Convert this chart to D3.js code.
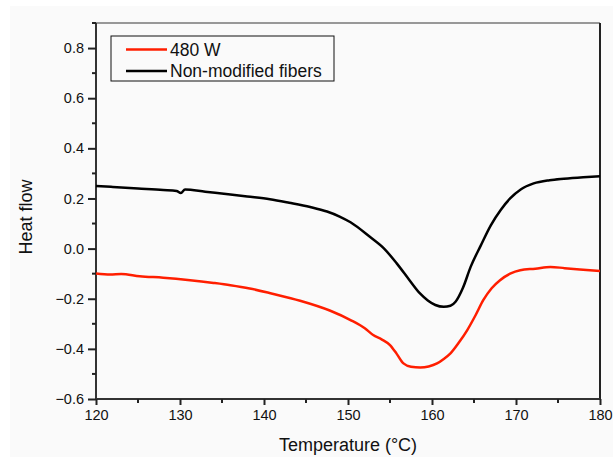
<!DOCTYPE html>
<meta charset="utf-8">
<title>Heat flow</title>
<style>
  body { margin: 0; background: #fff; }
  text { font-family: "Liberation Sans", Arial, sans-serif; fill: #111; }
</style>
<body>
</body>
<script src="https://d3js.org/d3.v7.min.js"></script>
<script>
  const width = 613, height = 457;

  // temperature (°C) and heat flow readings
  const tempBlack = [120, 122, 125, 128, 129.6, 130.1, 130.6, 133, 136, 138, 140.7, 143, 145.5, 147.5, 149, 150.3, 152.6, 154.3, 155.8, 157.3, 158.6, 159.5, 160.4, 161.4, 162.2, 162.8, 163.7, 164.6, 165.8, 167, 168.2, 169.3, 170.6, 172.1, 174, 175.7, 178, 180];
  const flowBlack = [0.250, 0.246, 0.240, 0.234, 0.230, 0.222, 0.236, 0.227, 0.216, 0.208, 0.197, 0.183, 0.166, 0.148, 0.128, 0.105, 0.047, 0.000, -0.059, -0.125, -0.180, -0.207, -0.225, -0.232, -0.228, -0.212, -0.155, -0.073, 0.012, 0.093, 0.155, 0.200, 0.237, 0.260, 0.273, 0.279, 0.285, 0.289];

  const tempRed = [120, 121.7, 123, 125.2, 128, 131.2, 134, 136, 138.3, 141, 144.3, 147.9, 150.3, 152, 153, 154, 155, 155.8, 156.6, 157.5, 158.6, 159.6, 160.6, 161.4, 162.2, 163.2, 164.2, 165.2, 166.1, 167.1, 168.1, 169.3, 170.5, 172.3, 174.1, 175.8, 177.6, 180];
  const flowRed = [-0.099, -0.103, -0.101, -0.110, -0.116, -0.126, -0.137, -0.146, -0.159, -0.180, -0.208, -0.248, -0.285, -0.318, -0.345, -0.362, -0.385, -0.420, -0.458, -0.471, -0.474, -0.470, -0.458, -0.440, -0.418, -0.375, -0.325, -0.265, -0.206, -0.158, -0.126, -0.100, -0.086, -0.080, -0.073, -0.078, -0.083, -0.089];

  const xTicks = [120, 130, 140, 150, 160, 170, 180];
  const yTicks = [-0.6, -0.4, -0.2, 0.0, 0.2, 0.4, 0.6, 0.8];
  const seriesNames = ["480 W", "Non-modified fibers"];
  const seriesColors = ["#ff1e00", "#000000"];

  const margin = {left: 96, right: 13, top: 23, bottom: 58};

  const x = d3.scaleLinear().domain([120, 180]).range([margin.left, width - margin.right]);
  const y = d3.scaleLinear().domain([-0.6, 0.9]).range([height - margin.bottom, margin.top]);

  const svg = d3.select("body").append("svg")
      .attr("width", width).attr("height", height);

  svg.append("rect")
      .attr("x", 10).attr("y", 6)
      .attr("width", width - 10).attr("height", height - 6)
      .attr("fill", "#fafafa");

  const x0 = x(120), x1 = x(180), y0 = y(-0.6), y1 = y(0.9);

  // frame: top and right without ticks
  svg.append("line").attr("x1", x0).attr("x2", x1).attr("y1", y1).attr("y2", y1)
      .attr("stroke", "#777").attr("stroke-width", 1.5);
  svg.append("line").attr("x1", x1).attr("x2", x1).attr("y1", y1).attr("y2", y0)
      .attr("stroke", "#222").attr("stroke-width", 2);

  // minor ticks
  const xMinor = d3.range(125, 180, 10);
  const yMinor = d3.range(-0.5, 0.95, 0.2);

  const xAxis = svg.append("g").attr("transform", `translate(0,${y0})`)
      .call(d3.axisBottom(x).tickValues(xTicks).tickSize(6).tickPadding(5).tickFormat(d3.format("d")));
  xAxis.append("g").selectAll("line").data(xMinor).join("line")
      .attr("x1", d => x(d)).attr("x2", d => x(d)).attr("y1", 0).attr("y2", 4)
      .attr("stroke", "#222").attr("stroke-width", 2);

  const yAxis = svg.append("g").attr("transform", `translate(${x0},0)`)
      .call(d3.axisLeft(y).tickValues(yTicks).tickSize(8).tickPadding(4).tickFormat(d3.format(".1f")));
  yAxis.append("g").selectAll("line").data(yMinor).join("line")
      .attr("x1", 0).attr("x2", -4).attr("y1", d => y(d)).attr("y2", d => y(d))
      .attr("stroke", "#222").attr("stroke-width", 2);

  [xAxis, yAxis].forEach(g => {
    g.select(".domain").attr("stroke", "#333").attr("stroke-width", 2);
    g.selectAll(".tick line").attr("stroke", "#222").attr("stroke-width", 2);
    g.selectAll(".tick text").attr("font-size", 14.5)
        .attr("font-family", "Liberation Sans, Arial, sans-serif").attr("fill", "#111");
  });
  yAxis.select(".domain").attr("d", `M0,${y0}V${y1}`);
  xAxis.select(".domain").attr("d", `M${x0},0H${x1}`);

  const line = d3.line().x(d => x(d[0])).y(d => y(d[1])).curve(d3.curveMonotoneX);

  svg.append("path")
      .attr("d", line(d3.zip(tempBlack, flowBlack)))
      .attr("fill", "none").attr("stroke", seriesColors[1]).attr("stroke-width", 2.5);
  svg.append("path")
      .attr("d", line(d3.zip(tempRed, flowRed)))
      .attr("fill", "none").attr("stroke", seriesColors[0]).attr("stroke-width", 2.5);

  // axis titles
  svg.append("text")
      .attr("x", 348).attr("y", 451)
      .attr("text-anchor", "middle").attr("font-size", 18)
      .text("Temperature (°C)");
  svg.append("text")
      .attr("transform", "translate(32,217) rotate(-90)")
      .attr("text-anchor", "middle").attr("font-size", 18)
      .text("Heat flow");

  // legend
  const legend = svg.append("g");
  legend.append("rect")
      .attr("x", 111).attr("y", 36).attr("width", 223).attr("height", 45)
      .attr("fill", "#fafafa").attr("stroke", "#111").attr("stroke-width", 1);
  seriesNames.forEach((name, i) => {
    const ly = 49.5 + i * 21.5;
    legend.append("line")
        .attr("x1", 126).attr("x2", 167).attr("y1", ly).attr("y2", ly)
        .attr("stroke", seriesColors[i]).attr("stroke-width", 2.5);
    legend.append("text")
        .attr("x", 170).attr("y", ly + 6)
        .attr("font-size", 17.5)
        .text(name);
  });
</script>
